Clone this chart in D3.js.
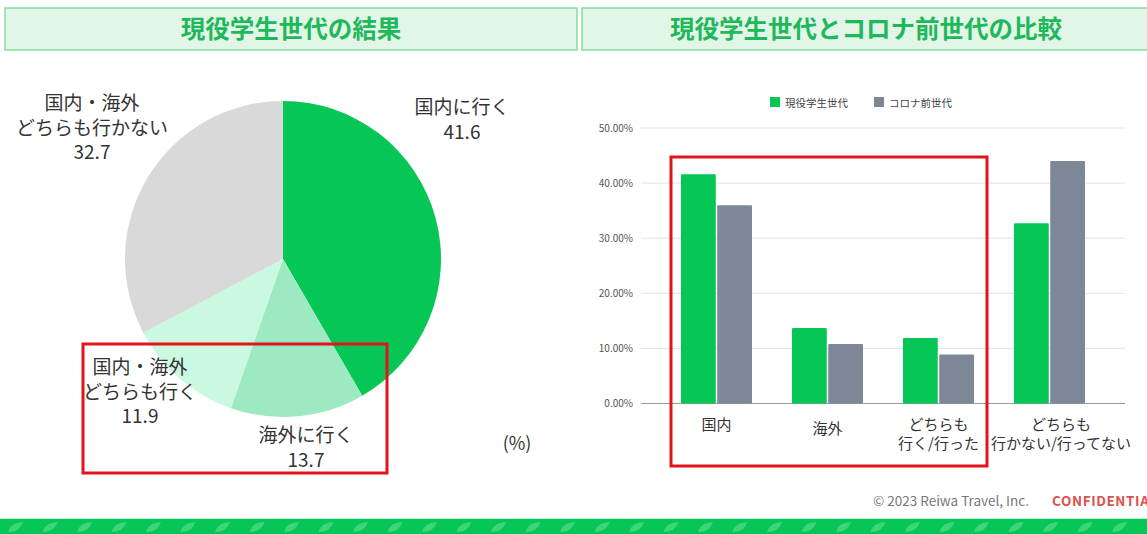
<!DOCTYPE html>
<html>
<head>
<meta charset="utf-8">
<script src="https://cdn.jsdelivr.net/npm/d3@7"></script>
<style>
  body { margin: 0; background: #fff; overflow: hidden; }
  svg text { font-family: "Noto Sans CJK JP", "Noto Sans", sans-serif; }
</style>
</head>
<body>
<svg id="chart" width="1147" height="534"></svg>
<script>
// pie: 現役学生世代の結果 (%)
var pieLabels = [["国内に行く"], ["海外に行く"], ["国内・海外", "どちらも行く"], ["国内・海外", "どちらも行かない"]];
var pieValues = [41.6, 13.7, 11.9, 32.7];
var pieColors = ["#06c755", "#9ce9c2", "#cbf8e0", "#d9d9d9"];

// bars: 現役学生世代 vs コロナ前世代
var barCategories = [["国内"], ["海外"], ["どちらも", "行く/行った"], ["どちらも", "行かない/行ってない"]];
var seriesNames = ["現役学生世代", "コロナ前世代"];
var studentValues = [41.6, 13.7, 11.9, 32.7];
var preCovidValues = [36.0, 10.8, 8.9, 44.0];
var seriesColors = ["#06c755", "#7e8797"];
var yTicks = [0, 10, 20, 30, 40, 50];

var svg = d3.select('#chart');

// title boxes
var titles = [
  {x: 5, w: 572, text: "現役学生世代の結果"},
  {x: 582, w: 580, text: "現役学生世代とコロナ前世代の比較", cx: 866}
];
titles.forEach(function(t) {
  svg.append('rect').attr('x', t.x).attr('y', 8).attr('width', t.w).attr('height', 42)
    .attr('fill', '#e2f6e8').attr('stroke', '#86dba0').attr('stroke-width', 1.5);
  svg.append('text').attr('x', t.cx || t.x + t.w / 2).attr('y', 38)
    .attr('text-anchor', 'middle').attr('font-size', 24.5).attr('font-weight', 700)
    .attr('fill', '#1fb85a').text(t.text);
});

// ---- pie ----
var cx = 283, cy = 259, r = 158;
var pie = d3.pie().sort(null).value(function(d) { return d; });
var arc = d3.arc().innerRadius(0).outerRadius(r);
var g = svg.append('g').attr('transform', 'translate(' + cx + ',' + cy + ')');
g.selectAll('path').data(pie(pieValues)).enter().append('path')
  .attr('d', arc).attr('fill', function(d, i) { return pieColors[i]; });

// label anchor spots (center x, first baseline)
var pieLabelPos = [[462, 114], [306, 442], [140, 374], [92, 110]];
pieLabels.forEach(function(lines, i) {
  var t = svg.append('text').attr('text-anchor', 'middle').attr('font-size', 19).attr('fill', '#333');
  lines.concat([pieValues[i].toFixed(1)]).forEach(function(s, j) {
    t.append('tspan').attr('x', pieLabelPos[i][0]).attr('y', pieLabelPos[i][1] + j * 24.5).text(s);
  });
});
svg.append('text').attr('x', 517).attr('y', 450).attr('text-anchor', 'middle')
  .attr('font-size', 18).attr('fill', '#333').text('(%)');

// red highlight on pie
svg.append('rect').attr('x', 83).attr('y', 344).attr('width', 304).attr('height', 129)
  .attr('fill', 'none').attr('stroke', '#e3131b').attr('stroke-width', 3);

// ---- grouped bars ----
var y = d3.scaleLinear().domain([0, 50]).range([403.5, 128]);
var x0 = d3.scaleBand().domain(d3.range(barCategories.length)).range([661, 1105]);
var x1 = d3.scaleBand().domain(d3.range(seriesNames.length)).range([0, 71]).paddingInner(0.04);
var xOff = (x0.bandwidth() - 71) / 2;

var grid = svg.append('g');
grid.selectAll('line').data(yTicks).enter().append('line')
  .attr('x1', 641).attr('x2', 1125)
  .attr('y1', function(d) { return y(d); }).attr('y2', function(d) { return y(d); })
  .attr('stroke', function(d) { return d === 0 ? '#9a9a9a' : '#e3e3e3'; })
  .attr('stroke-width', function(d) { return d === 0 ? 1.2 : 1; });
grid.selectAll('text').data(yTicks).enter().append('text')
  .attr('x', 633).attr('y', function(d) { return y(d) + 3.5; })
  .attr('text-anchor', 'end').attr('font-size', 10).attr('fill', '#555')
  .text(function(d) { return d.toFixed(2) + '%'; });

var seriesValues = [studentValues, preCovidValues];
var groups = svg.append('g').selectAll('g').data(barCategories).enter().append('g')
  .attr('transform', function(d, i) { return 'translate(' + (x0(i) + xOff) + ',0)'; });
groups.selectAll('rect').data(function(d, i) { return seriesValues.map(function(s) { return s[i]; }); })
  .enter().append('rect')
  .attr('x', function(d, j) { return x1(j); })
  .attr('width', x1.bandwidth())
  .attr('y', function(d) { return y(d); })
  .attr('height', function(d) { return y(0) - y(d); })
  .attr('rx', 1)
  .attr('fill', function(d, j) { return seriesColors[j]; });

// category labels; a label is pushed right when it would run into the previous one
var prevRight = -Infinity;
barCategories.forEach(function(lines, i) {
  var t = svg.append('text').attr('text-anchor', 'middle').attr('font-size', 15).attr('fill', '#333');
  var base = lines.length === 1 ? (i === 0 ? 430 : 434) : 430;
  var spans = lines.map(function(s, j) {
    return t.append('tspan').attr('x', x0(i) + x0.bandwidth() / 2).attr('y', base + j * 19).text(s);
  });
  var bb = t.node().getBBox();
  var shift = Math.max(0, prevRight + 12 - bb.x);
  spans.forEach(function(sp) { sp.attr('x', x0(i) + x0.bandwidth() / 2 + shift); });
  prevRight = bb.x + bb.width + shift;
});

// legend
var legend = svg.append('g');
var legendX = [770, 874];
seriesNames.forEach(function(s, i) {
  legend.append('rect').attr('x', legendX[i]).attr('y', 97).attr('width', 10).attr('height', 10)
    .attr('fill', seriesColors[i]);
  legend.append('text').attr('x', legendX[i] + 15).attr('y', 106.5).attr('font-size', 10.5)
    .attr('fill', '#444').text(s);
});

// red highlight on bars
svg.append('rect').attr('x', 671).attr('y', 157).attr('width', 316).attr('height', 309)
  .attr('fill', 'none').attr('stroke', '#e3131b').attr('stroke-width', 3);

// ---- footer ----
svg.append('text').attr('x', 873).attr('y', 506).attr('font-size', 13.5).attr('fill', '#777')
  .text('© 2023 Reiwa Travel, Inc.');
svg.append('text').attr('x', 1052).attr('y', 506).attr('font-size', 13.5).attr('font-weight', 700)
  .attr('letter-spacing', 0.6).attr('fill', '#d9534f').text('CONFIDENTIAL');
svg.append('rect').attr('x', 0).attr('y', 519).attr('width', 1147).attr('height', 15).attr('fill', '#06c755');
svg.append('line').attr('x1', 0).attr('x2', 1147).attr('y1', 518.5).attr('y2', 518.5)
  .attr('stroke', '#bfeed0').attr('stroke-width', 1);
svg.append('g').selectAll('path').data(d3.range(8, 1147, 34.5)).enter().append('path')
  .attr('d', function(d) { return 'M' + d + ',532 Q' + (d + 3) + ',522 ' + (d + 15) + ',522 Q' + (d + 12) + ',532 ' + d + ',532 Z'; })
  .attr('fill', '#4fd98a').attr('opacity', 0.75);
</script>
</body>
</html>
